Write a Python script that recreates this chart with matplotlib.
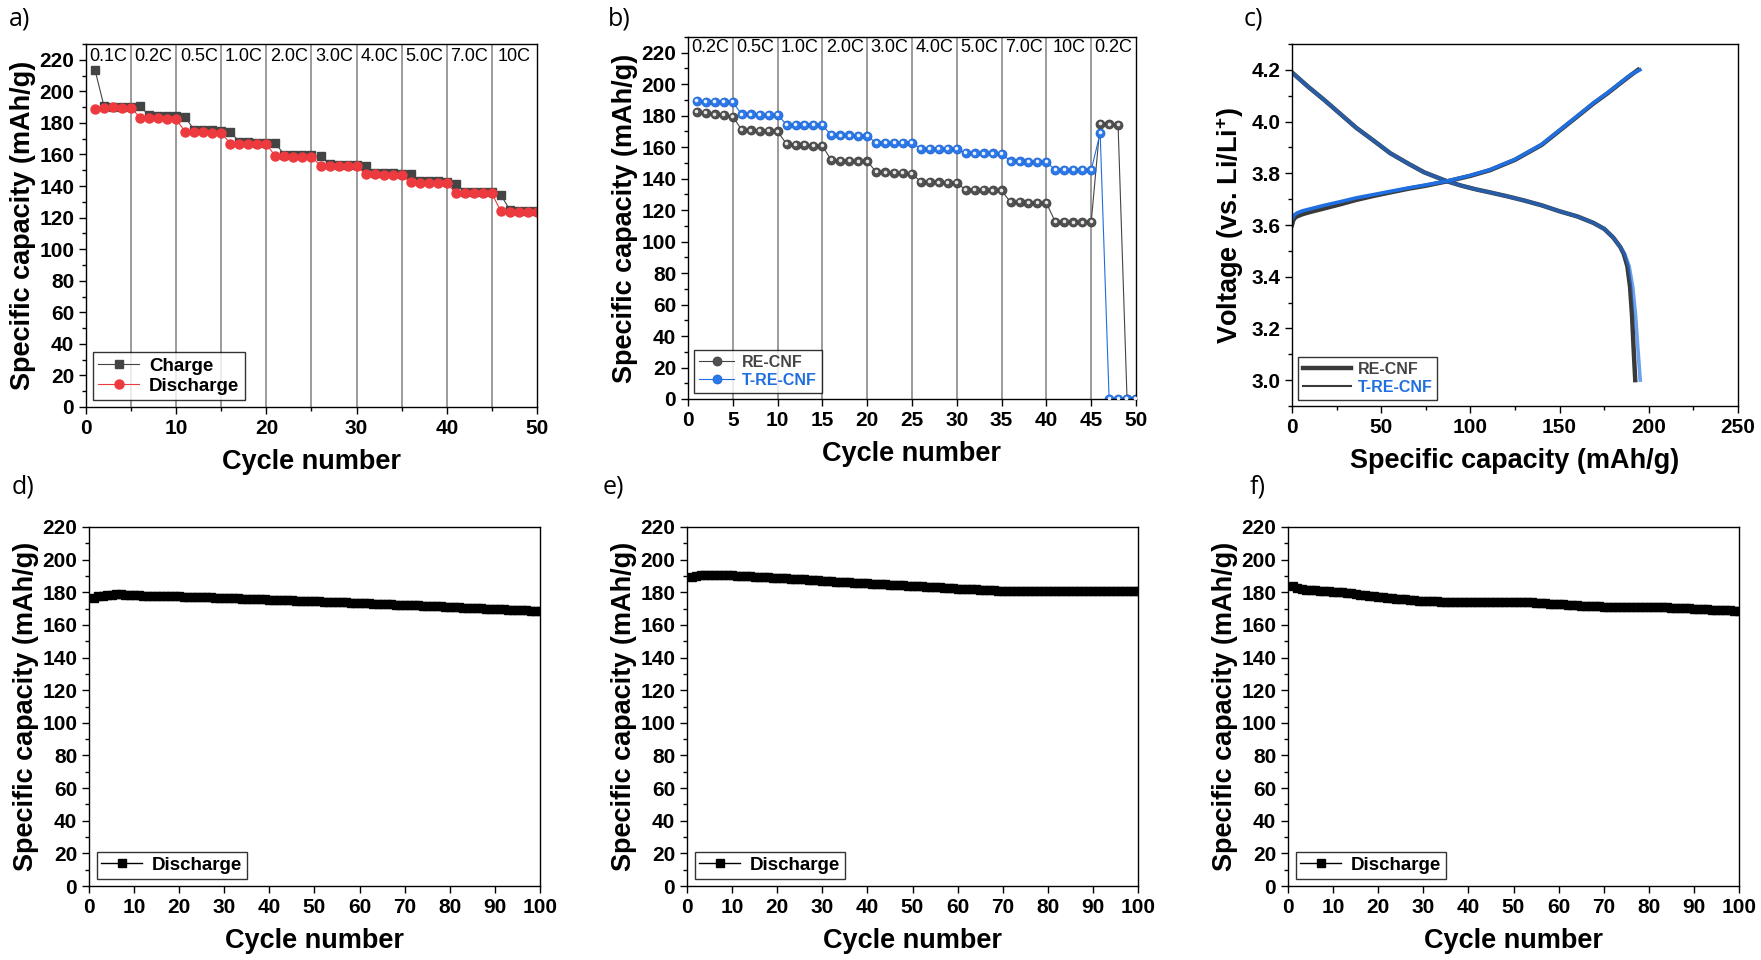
import matplotlib
matplotlib.use('Agg')
import matplotlib.pyplot as plt
from matplotlib.lines import Line2D
from matplotlib.ticker import MultipleLocator
import matplotlib.transforms as mtransforms

plt.rcParams['font.family'] = ['Liberation Sans', 'DejaVu Sans']
plt.rcParams['font.weight'] = 'bold'
plt.rcParams['mathtext.fontset'] = 'custom'
plt.rcParams['mathtext.rm'] = 'Liberation Sans:bold'
plt.rcParams['mathtext.bf'] = 'Liberation Sans:bold'
plt.rcParams['mathtext.it'] = 'Liberation Sans:bold'
plt.rcParams['axes.linewidth'] = 1.0

# ---------------- data: panel a (rate test, charge / discharge)
cycles_a = list(range(1, 51))
charge_a = [213.5, 190.5, 190.3, 190.2, 190.0,
            190.5, 184.8, 184.6, 184.5, 184.3,
            183.5, 175.5, 175.3, 175.2, 175.0,
            174.5, 167.8, 167.6, 167.5, 167.4,
            167.0, 159.8, 159.6, 159.5, 159.4,
            158.8, 153.8, 153.6, 153.5, 153.4,
            152.5, 148.3, 148.1, 148.0, 147.8,
            147.5, 143.3, 143.1, 143.0, 142.8,
            141.5, 136.4, 136.3, 136.2, 136.1,
            134.5, 124.6, 124.5, 124.4, 124.3]
discharge_a = [188.8, 189.7, 189.8, 189.5, 189.7,
               183.2, 183.0, 182.8, 182.6, 182.4,
               174.2, 174.0, 174.0, 173.8, 173.8,
               166.8, 166.8, 166.7, 166.6, 166.5,
               158.9, 158.8, 158.7, 158.5, 158.5,
               153.0, 152.8, 152.7, 152.7, 152.6,
               147.6, 147.4, 147.3, 147.0, 146.8,
               142.3, 142.2, 142.0, 141.8, 141.7,
               135.6, 135.5, 135.4, 135.4, 135.3,
               123.9, 123.7, 123.6, 123.5, 123.5]
rates_a = ['0.1C', '0.2C', '0.5C', '1.0C', '2.0C', '3.0C', '4.0C', '5.0C', '7.0C', '10C']

# ---------------- data: panel b (RE-CNF vs T-RE-CNF rate test)
cycles_b = list(range(1, 51))
re_cnf_b = [182.4, 181.8, 180.8, 180.3, 179.3,
            171.0, 170.6, 170.5, 170.1, 170.0,
            162.0, 161.6, 161.5, 161.0, 160.8,
            151.7, 151.5, 151.1, 151.0, 151.0,
            144.3, 144.0, 143.6, 143.5, 143.1,
            138.0, 137.9, 137.6, 137.4, 137.1,
            133.0, 132.9, 132.6, 132.5, 132.5,
            125.0, 125.0, 124.8, 124.5, 124.5,
            112.5, 112.3, 112.2, 112.2, 112.3,
            175.0, 174.5, 174.0, 0.0, 0.0]
t_re_cnf_b = [189.2, 189.0, 189.0, 188.8, 188.6,
              180.8, 180.8, 180.6, 180.5, 180.5,
              174.4, 174.3, 174.2, 174.1, 174.0,
              167.6, 167.5, 167.5, 167.4, 167.3,
              162.7, 162.7, 162.6, 162.6, 162.5,
              159.1, 159.0, 159.0, 159.0, 158.8,
              156.1, 156.0, 156.0, 156.0, 155.9,
              151.0, 151.0, 150.8, 150.8, 150.7,
              145.3, 145.3, 145.3, 145.3, 145.3,
              169.1, 0.0, 0.0, 0.0, 0.0]
rates_b = ['0.2C', '0.5C', '1.0C', '2.0C', '3.0C', '4.0C', '5.0C', '7.0C', '10C', '0.2C']

# ---------------- data: panel c (voltage profiles)
cap_chg_re = [0, 0.5, 1.5, 3, 6, 10, 18, 27, 36, 46, 55, 65, 75, 87, 100, 111,
              125, 140, 150, 160, 169, 177, 184, 190, 194]
v_chg_re = [3.600, 3.615, 3.627, 3.634, 3.642, 3.650, 3.664, 3.680, 3.697, 3.713,
            3.726, 3.740, 3.752, 3.769, 3.790, 3.812, 3.852, 3.910, 3.965, 4.020,
            4.070, 4.110, 4.148, 4.180, 4.200]
cap_chg_t = [0, 0.5, 1.5, 3, 6, 10, 18, 27, 36, 46, 55, 65, 75, 87, 100, 111,
             125, 140, 150, 160, 169, 177, 184, 190, 195]
v_chg_t = [3.620, 3.630, 3.640, 3.647, 3.655, 3.662, 3.676, 3.690, 3.705, 3.718,
           3.730, 3.743, 3.755, 3.770, 3.792, 3.814, 3.854, 3.912, 3.967, 4.022,
           4.072, 4.112, 4.150, 4.182, 4.200]
cap_dis_re = [0, 9, 18, 27, 36, 46, 55, 65, 74, 81, 87, 95, 103, 111, 120, 130, 140,
              150, 160, 169, 175, 180, 184, 186, 188, 189.5, 190.6, 191.5, 192.4]
v_dis_re = [4.190, 4.135, 4.084, 4.030, 3.976, 3.925, 3.878, 3.838, 3.804, 3.785,
            3.769, 3.752, 3.738, 3.726, 3.712, 3.695, 3.676, 3.653, 3.633, 3.608,
            3.585, 3.552, 3.515, 3.488, 3.440, 3.360, 3.250, 3.120, 3.000]
cap_dis_t = [0, 9, 18, 27, 36, 46, 55, 65, 74, 81, 87, 95, 103, 111, 120, 130, 140,
             150, 160, 169, 175, 180, 184, 186.5, 189, 191, 192.6, 193.9, 195.2]
v_dis_t = [4.190, 4.135, 4.084, 4.030, 3.976, 3.925, 3.878, 3.838, 3.804, 3.785,
           3.769, 3.752, 3.738, 3.726, 3.712, 3.695, 3.676, 3.653, 3.633, 3.608,
           3.585, 3.552, 3.515, 3.488, 3.440, 3.360, 3.250, 3.120, 3.000]

# ---------------- data: panels d, e, f (cycling, 100 cycles)
cycles_long = list(range(1, 101))
dis_d = [176.6, 177.5, 178.0, 178.4, 178.6, 178.7, 178.7, 178.6, 178.5, 178.4,
         178.2, 178.0, 177.9, 177.8, 177.8, 177.7, 177.7, 177.6, 177.6, 177.5,
         177.4, 177.3, 177.2, 177.1, 177.0, 176.9, 176.8, 176.7, 176.6, 176.5,
         176.4, 176.3, 176.2, 176.1, 176.0, 175.9, 175.8, 175.7, 175.6, 175.5,
         175.4, 175.3, 175.2, 175.1, 175.0, 174.9, 174.8, 174.7, 174.6, 174.5,
         174.4, 174.3, 174.2, 174.1, 174.0, 173.9, 173.8, 173.7, 173.6, 173.5,
         173.4, 173.2, 173.1, 173.0, 172.9, 172.8, 172.7, 172.5, 172.4, 172.3,
         172.2, 172.0, 171.9, 171.8, 171.7, 171.5, 171.4, 171.3, 171.2, 171.0,
         170.9, 170.8, 170.6, 170.5, 170.4, 170.2, 170.1, 170.0, 169.8, 169.7,
         169.6, 169.5, 169.4, 169.3, 169.2, 169.0, 168.9, 168.8, 168.7, 168.6]
dis_e = [189.6, 190.1, 190.4, 190.6, 190.7, 190.7, 190.6, 190.5, 190.4, 190.3,
         190.2, 190.0, 189.9, 189.7, 189.6, 189.5, 189.3, 189.2, 189.0, 188.9,
         188.7, 188.6, 188.4, 188.2, 188.1, 187.9, 187.7, 187.5, 187.3, 187.1,
         186.9, 186.8, 186.6, 186.4, 186.2, 186.0, 185.9, 185.7, 185.5, 185.4,
         185.2, 185.1, 184.9, 184.8, 184.6, 184.5, 184.3, 184.2, 184.0, 183.9,
         183.7, 183.6, 183.4, 183.3, 183.1, 183.0, 182.8, 182.6, 182.5, 182.3,
         182.2, 182.0, 181.9, 181.7, 181.6, 181.4, 181.3, 181.1, 181.0, 180.8,
         180.7, 180.6, 180.6, 180.5, 180.5, 180.5, 180.5, 180.5, 180.5, 180.5,
         180.5, 180.5, 180.5, 180.5, 180.5, 180.5, 180.5, 180.5, 180.5, 180.5,
         180.5, 180.5, 180.5, 180.5, 180.5, 180.5, 180.5, 180.5, 180.5, 180.5]
dis_f = [183.6, 182.5, 181.8, 181.5, 181.3, 181.2, 181.0, 180.8, 180.6, 180.4,
         180.2, 180.0, 179.7, 179.3, 178.9, 178.5, 178.2, 177.9, 177.6, 177.3,
         177.0, 176.7, 176.4, 176.1, 175.9, 175.6, 175.3, 175.0, 174.8, 174.6,
         174.5, 174.4, 174.4, 174.3, 174.3, 174.3, 174.3, 174.3, 174.3, 174.3,
         174.3, 174.3, 174.3, 174.3, 174.3, 174.2, 174.2, 174.2, 174.1, 174.1,
         174.0, 174.0, 173.9, 173.8, 173.6, 173.4, 173.2, 173.0, 172.9, 172.8,
         172.6, 172.4, 172.2, 172.0, 171.8, 171.6, 171.5, 171.4, 171.3, 171.2,
         171.2, 171.1, 171.1, 171.0, 171.0, 171.0, 170.9, 170.9, 170.9, 170.8,
         170.8, 170.8, 170.7, 170.7, 170.6, 170.6, 170.5, 170.4, 170.2, 170.0,
         169.8, 169.6, 169.5, 169.4, 169.3, 169.2, 169.1, 169.0, 168.8, 168.6]

GRAY = '#444444'
RED = '#ec3a3f'
BLUE = '#1f6fe0'
TICK_FS = 15
LABEL_FS = 19.5


def style_axes(ax):
    ax.tick_params(which='both', direction='out', top=False, right=False,
                   labelsize=TICK_FS, width=1)
    ax.tick_params(which='major', length=5)
    ax.tick_params(which='minor', length=3)
    for lab in ax.get_xticklabels() + ax.get_yticklabels():
        lab.set_fontweight('bold')


def rate_marks(ax, labels, ypos):
    for k in range(5, 50, 5):
        ax.axvline(k, color='#808080', lw=1.1, zorder=0)
    trans = mtransforms.blended_transform_factory(ax.transData, ax.transAxes)
    for i, lab in enumerate(labels):
        ax.text(i * 5 + 2.5, ypos, lab, transform=trans, ha='center', va='center',
                fontsize=13, fontweight='normal')


fig = plt.figure(figsize=(17.61, 9.6), dpi=100)
W, H = 1761.0, 960.0


def axes_px(left, top, right, bottom):
    return fig.add_axes([left / W, 1 - bottom / H, (right - left) / W, (bottom - top) / H])


# ---- a)
ax = axes_px(86, 44, 537, 407)
ax.plot(cycles_a, charge_a, color=GRAY, lw=0.8, marker='s', ms=6, label='Charge')
ax.plot(cycles_a, discharge_a, color=RED, lw=0.8, marker='o', ms=6.5, label='Discharge')
ax.set_xlim(0, 50)
ax.set_ylim(0, 230)
ax.xaxis.set_major_locator(MultipleLocator(10))
ax.xaxis.set_minor_locator(MultipleLocator(5))
ax.yaxis.set_major_locator(MultipleLocator(20))
ax.yaxis.set_minor_locator(MultipleLocator(10))
rate_marks(ax, rates_a, 0.965)
ax.set_xlabel('Cycle number', fontsize=LABEL_FS, fontweight='bold', labelpad=8)
ax.set_ylabel('Specific capacity (mAh/g)', fontsize=LABEL_FS, fontweight='bold', labelpad=2)
leg = ax.legend(loc='lower left', fontsize=13.5, frameon=True, fancybox=False,
                edgecolor='black', handlelength=2.2, borderpad=0.3,
                labelspacing=0.15, handletextpad=0.5, borderaxespad=0.35)
leg.get_frame().set_linewidth(1.0)
style_axes(ax)

# ---- b)
ax = axes_px(688, 37, 1136, 399)
ax.plot(cycles_b, re_cnf_b, color=GRAY, lw=0.8, marker='o', ms=6.5,
        mfc='#505050', mec='#3a3a3a', mew=0.5, label='RE-CNF')
ax.plot(cycles_b, t_re_cnf_b, color=BLUE, lw=0.8, marker='o', ms=6.5,
        mfc='#2a78ea', mec='#1a5fc8', mew=0.5, label='T-RE-CNF')
shine = mtransforms.offset_copy(ax.transData, fig=fig, x=-0.4, y=0.6, units='points')
ax.plot(cycles_b, re_cnf_b, ls='none', marker='o', ms=1.6, color='#e6e6e6',
        transform=shine, zorder=3)
ax.plot(cycles_b, t_re_cnf_b, ls='none', marker='o', ms=1.6, color='#e8f0ff',
        transform=shine, zorder=3)
ax.set_xlim(0, 50)
ax.set_ylim(0, 230)
ax.xaxis.set_major_locator(MultipleLocator(5))
ax.yaxis.set_major_locator(MultipleLocator(20))
ax.yaxis.set_minor_locator(MultipleLocator(10))
rate_marks(ax, rates_b, 0.97)
ax.set_xlabel('Cycle number', fontsize=LABEL_FS, fontweight='bold', labelpad=8)
ax.set_ylabel('Specific capacity (mAh/g)', fontsize=LABEL_FS, fontweight='bold', labelpad=2)
leg = ax.legend(loc='lower left', fontsize=11.5, frameon=True, fancybox=False,
                edgecolor='black', handlelength=2.2, borderpad=0.3,
                labelspacing=0.2, handletextpad=0.5, borderaxespad=0.4)
leg.get_frame().set_linewidth(1.0)
leg.get_texts()[0].set_color(GRAY)
leg.get_texts()[1].set_color(BLUE)
style_axes(ax)

# ---- c)
ax = axes_px(1292, 44, 1738, 406)
ax.plot(cap_chg_re, v_chg_re, color='#3a3a3a', lw=3.2)
ax.plot(cap_dis_re, v_dis_re, color='#3a3a3a', lw=3.2)
ax.plot(cap_chg_t, v_chg_t, color=BLUE, lw=2.6)
ax.plot(cap_dis_t, v_dis_t, color=BLUE, lw=2.6, alpha=0.65)
ax.set_xlim(0, 250)
ax.set_ylim(2.9, 4.3)
ax.xaxis.set_major_locator(MultipleLocator(50))
ax.xaxis.set_minor_locator(MultipleLocator(25))
ax.yaxis.set_major_locator(MultipleLocator(0.2))
ax.yaxis.set_minor_locator(MultipleLocator(0.1))
ax.yaxis.set_major_formatter(matplotlib.ticker.FormatStrFormatter('%.1f'))
ax.set_xlabel('Specific capacity (mAh/g)', fontsize=LABEL_FS, fontweight='bold', labelpad=8)
ax.set_ylabel('Voltage (vs. Li/Li$^{+}$)', fontsize=LABEL_FS, fontweight='bold', labelpad=4)
handles = [Line2D([], [], color='#3a3a3a', lw=3.2), Line2D([], [], color='#3a3a3a', lw=1.5)]
leg = ax.legend(handles, ['RE-CNF', 'T-RE-CNF'], loc='lower left', fontsize=11.5,
                frameon=True, fancybox=False, edgecolor='black', handlelength=3.0,
                borderpad=0.3, labelspacing=0.2, handletextpad=0.4, borderaxespad=0.4)
leg.get_frame().set_linewidth(1.0)
leg.get_texts()[0].set_color(GRAY)
leg.get_texts()[1].set_color(BLUE)
style_axes(ax)

# ---- d), e), f)
long_sets = [(89, dis_d), (687, dis_e), (1288, dis_f)]
for left, vals in long_sets:
    ax = axes_px(left, 527, left + 451, 886)
    ax.plot(cycles_long, vals, color='black', lw=1.0, marker='s', ms=6, label='Discharge')
    ax.set_xlim(0, 100)
    ax.set_ylim(0, 220)
    ax.xaxis.set_major_locator(MultipleLocator(10))
    ax.yaxis.set_major_locator(MultipleLocator(20))
    ax.yaxis.set_minor_locator(MultipleLocator(10))
    ax.set_xlabel('Cycle number', fontsize=LABEL_FS, fontweight='bold', labelpad=8)
    ax.set_ylabel('Specific capacity (mAh/g)', fontsize=LABEL_FS, fontweight='bold', labelpad=2)
    leg = ax.legend(loc='lower left', fontsize=13.5, frameon=True, fancybox=False,
                    edgecolor='black', handlelength=2.2, borderpad=0.25,
                    handletextpad=0.5, borderaxespad=0.4)
    leg.get_frame().set_linewidth(1.0)
    style_axes(ax)

# panel letters
for lab, x, y in [('a)', 9, 6), ('b)', 608, 6), ('c)', 1244, 6),
                  ('d)', 12, 474), ('e)', 603, 474), ('f)', 1250, 474)]:
    fig.text(x / W, 1 - y / H, lab, fontsize=18, fontweight='normal',
             ha='left', va='top', family=['Open Sans', 'DejaVu Sans'])

fig.savefig('out.png', dpi=100)
